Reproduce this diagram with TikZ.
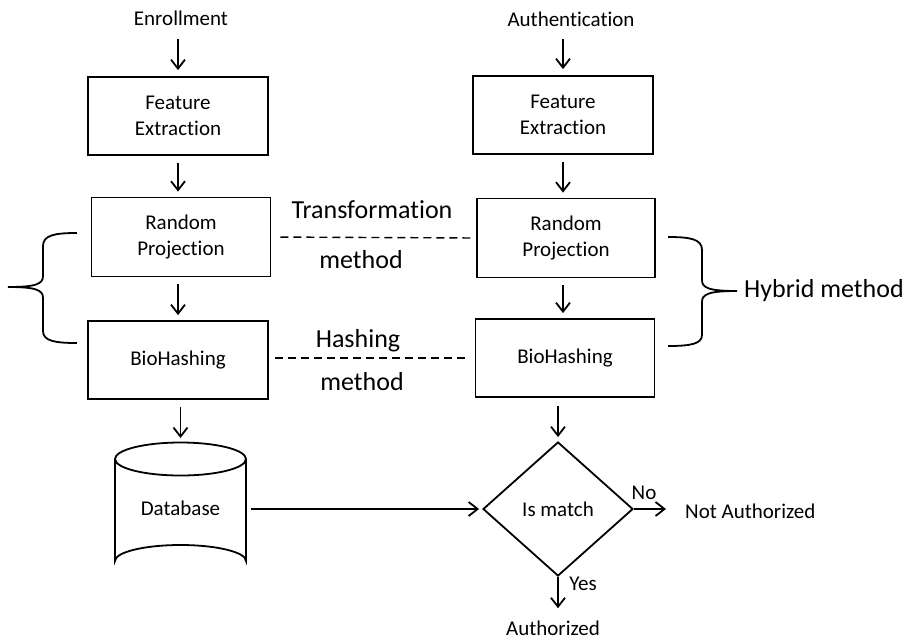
\documentclass[tikz,border=0pt]{standalone}
\usepackage{fontspec}
\setmainfont{Carlito}[Ligatures=NoCommon]
\usetikzlibrary{arrows.meta,shapes.geometric}
\begin{document}
\begin{tikzpicture}[x=1pt,y=-1pt,
  box/.style={draw, line width=1.8pt, minimum width=180pt, minimum height=78pt, align=center, font=\fontsize{21}{25.5}\selectfont, inner sep=0pt},
  txt/.style={font=\fontsize{21}{25.5}\selectfont, inner sep=0pt},
  big/.style={font=\fontsize{26}{31}\selectfont, inner sep=0pt},
  arr/.style={line width=1.8pt, -{Straight Barb[length=9pt,width=14pt]}, shorten <=7pt, shorten >=5pt},
  dashline/.style={line width=1.4pt, dash pattern=on 8pt off 5pt},
  brace/.style={line width=1.8pt},
]
\useasboundingbox (0,0) rectangle (920,641);

% titles
\node[txt, anchor=base] (enr) at (181,25) {Enrollment};
\node[txt, anchor=base] (auth) at (571,26) {Authentication};

% left column
\node[box] (feL) at (178,116) {Feature\\Extraction};
\node[box, minimum width=179pt, minimum height=79pt] (rpL) at (181,237) {Random\\Projection};
\node[box] (bhL) at (178,360) {BioHashing};

% right column
\node[box] (feR) at (563,115) {Feature\\Extraction};
\node[box, minimum width=178pt, minimum height=79pt] (rpR) at (566,238) {Random\\Projection};
\node[box, minimum width=179pt] (bhR) at (565,358) {BioHashing};

% database cylinder
\draw[line width=1.8pt] (115,459) -- (115,561) arc[start angle=180, end angle=360, x radius=65.5, y radius=16] -- (246,459);
\draw[line width=1.8pt] (180.5,459) ellipse [x radius=65.5, y radius=16.5];
\coordinate (dbtop) at (180.5,443);
\node[txt, minimum width=141pt, minimum height=20pt] (db) at (180.5,508) {Database};

% decision
\node[draw, diamond, line width=1.8pt, minimum width=150pt, minimum height=134pt, txt] (dm) at (558,509) {Is match};

% outcomes
\node[txt, anchor=west] (notauth) at (685,511) {Not Authorized};
\node[txt, anchor=base] (authd) at (553,635) {Authorized};
\node[txt, anchor=base] (no) at (644,499) {No};
\node[txt, anchor=base] (yes) at (583,590) {Yes};

% arrows
\draw[arr, shorten <=14pt, shorten >=6pt] (feL.north |- enr.south) -- (feL.north);
\draw[arr, shorten <=13pt, shorten >=6pt] (feR.north |- auth.south) -- (feR.north);
\draw[arr] (feL.south) -- (feL.south |- rpL.north);
\draw[arr] (rpL.south -| feL.south) -- (bhL.north);
\draw[arr] (bhL.south -| dbtop) -- (dbtop);
\draw[arr] (feR.south) -- (feR.south |- rpR.north);
\draw[arr] (rpR.south -| feR.south) -- (bhR.north -| feR.south);
\draw[arr, shorten <=8pt, shorten >=4pt] (bhR.south -| dm.north) -- (dm.north);
\draw[arr, shorten <=0pt, shorten >=3pt] (db.east |- dm.west) -- (dm.west);
\draw[arr, shorten <=0pt, shorten >=19pt] (dm.east) -- (notauth.west |- dm.east);
\draw[arr, shorten <=0pt, shorten >=12pt] (dm.south) -- (dm.south |- authd.north);

% dashed links
\draw[dashline, shorten <=9pt, shorten >=5pt] (rpL.east) -- (rpR.west);
\draw[dashline, shorten <=6pt, shorten >=9pt] (bhL.east |- bhR.east) -- (bhR.west);
\node[big, anchor=base] (tr) at (372,218) {Transformation};
\node[big, anchor=base] (m1) at (361,268) {method};
\node[big, anchor=base] (hs) at (358,347) {Hashing};
\node[big, anchor=base] (m2) at (362,390) {method};

% braces
\draw[brace] (77,233) .. controls (55,233) and (43,235) .. (43,246) -- (43,276)
  .. controls (43,284) and (36,287) .. (8,287)
  .. controls (36,287) and (43,290) .. (43,298) -- (43,331)
  .. controls (43,341) and (55,343) .. (77,343);
\draw[brace] (668,237) .. controls (690,237) and (702,239) .. (702,250) -- (702,280)
  .. controls (702,288) and (709,291) .. (737,291)
  .. controls (709,291) and (702,294) .. (702,302) -- (702,335)
  .. controls (702,344) and (690,346) .. (668,346);
\node[big, anchor=west] (hy) at (744,291) {Hybrid method};
\end{tikzpicture}
\end{document}
